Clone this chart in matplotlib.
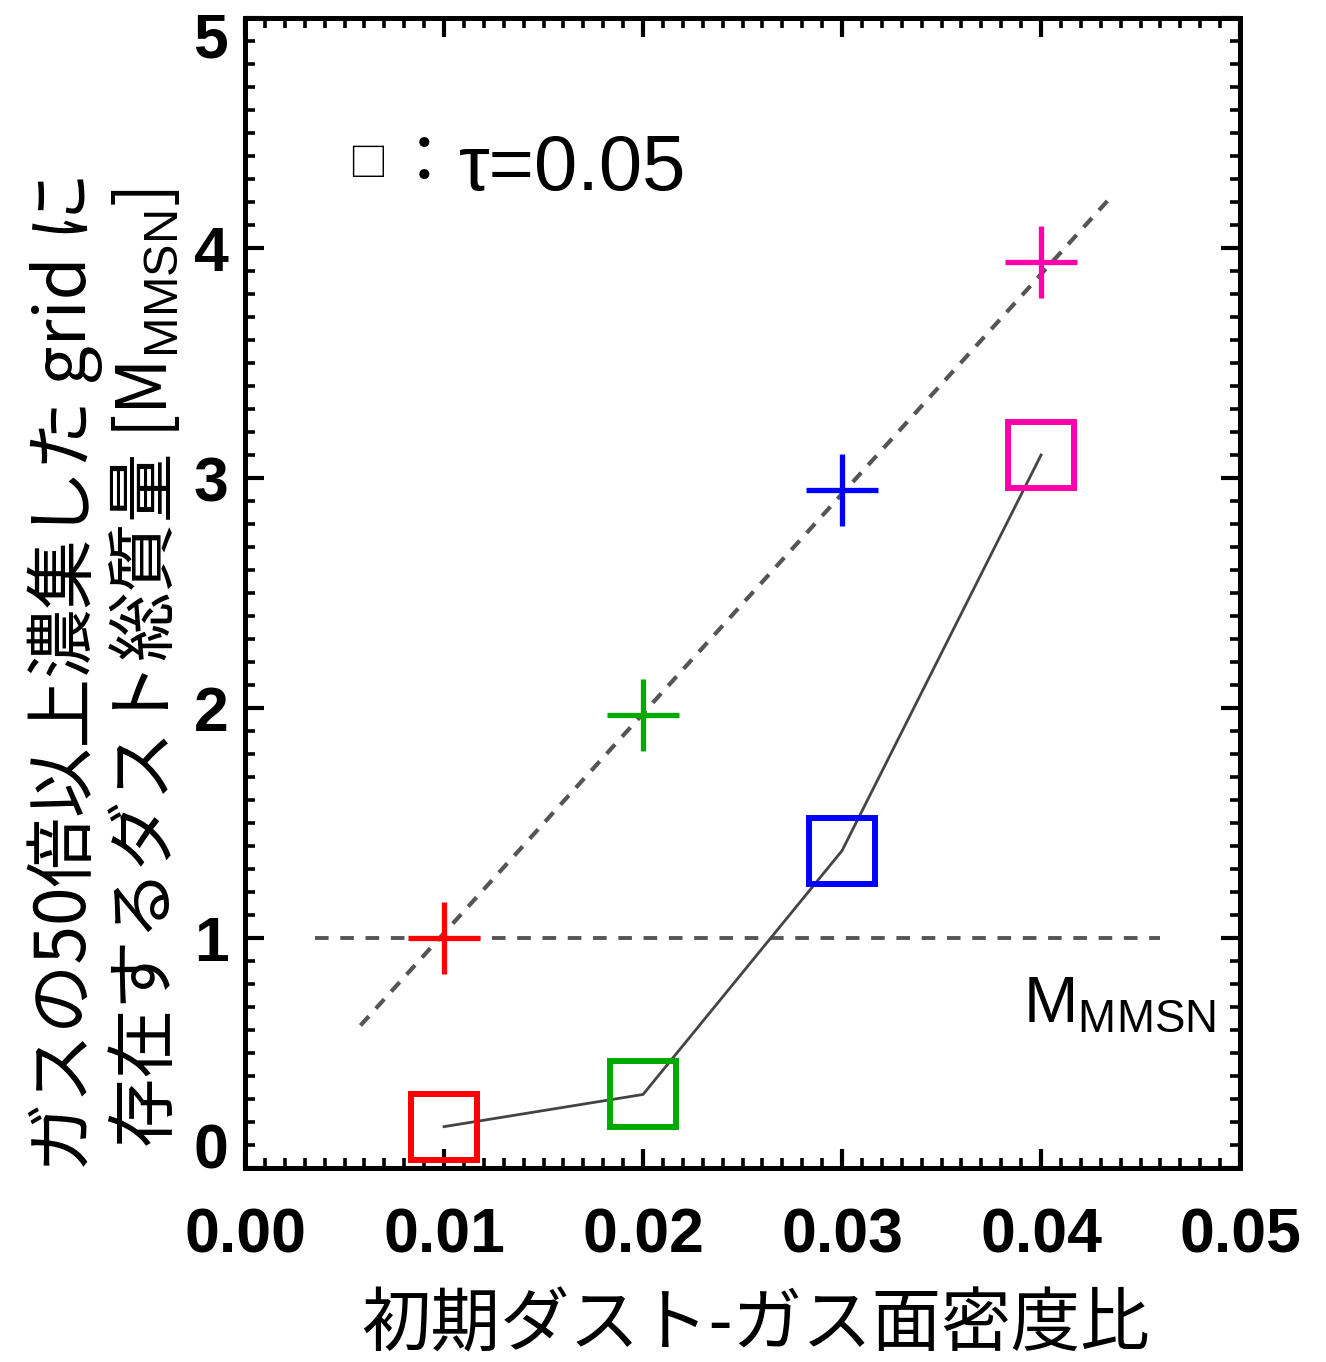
import numpy as np
import matplotlib.pyplot as plt
from matplotlib.ticker import MultipleLocator, FuncFormatter
from matplotlib.transforms import ScaledTranslation

plt.rcParams['mathtext.fontset'] = 'custom'
plt.rcParams['mathtext.rm'] = 'Liberation Sans'

# 初期ダスト-ガス面密度比
ratio = [0.01, 0.02, 0.03, 0.04]
colors = ['#ff0000', '#00aa00', '#0000ff', '#ff00aa']

# +印 : ガスの50倍以上濃集した grid に存在するダスト総質量
mass_plus = [1.00, 1.97, 2.95, 3.94]
# □印 : τ=0.05
mass_tau = [0.18, 0.32, 1.38, 3.10]

# +印に合わせた直線 (破線)
fit_x = [0.0058, 0.0436]
fit_y = [0.62, 4.23]

# M_MMSN の基準線
mmsn_x = [0.0035, 0.046]
mmsn_y = [1.0, 1.0]

ymin, ymax = 0, 5

fig = plt.figure(figsize=(13.26, 13.62), dpi=100)
ax = fig.add_axes([0.1848, 0.1424, 0.7504, 0.8444])

ax.plot(mmsn_x, mmsn_y, color='#555555', lw=2.8, dashes=(3.5, 3.0))
ax.plot(fit_x, fit_y, color='#555555', lw=3.0, dashes=(3.0, 2.5))
ax.plot(ratio, mass_tau, color='#444444', lw=2.0)

for x, yp, yt, c in zip(ratio, mass_plus, mass_tau, colors):
    ax.plot(x, yp, marker='+', ms=52, mew=3.8, color=c, ls='none')
    ax.plot(x, yt, marker='s', ms=47, mew=4.3, mec=c, mfc='none', ls='none')

ax.set_xlim(0, 0.05)
ax.set_ylim(ymin, ymax)
ax.xaxis.set_major_locator(MultipleLocator(0.01))
ax.xaxis.set_minor_locator(MultipleLocator(0.001))
ax.yaxis.set_major_locator(MultipleLocator(1))
ax.yaxis.set_minor_locator(MultipleLocator(0.1))
ax.xaxis.set_major_formatter(plt.FormatStrFormatter('%.2f'))
# 両端 (0 と 5) は枠の内側に寄せて別に描く
ax.yaxis.set_major_formatter(FuncFormatter(
    lambda v, p: '' if v in (ymin, ymax) else '%d' % v))

ax.tick_params(which='both', direction='in', top=True, right=True, color='black')
ax.tick_params(which='major', length=14, width=3.0)
ax.tick_params(which='minor', length=7, width=2.6)
ax.tick_params(axis='x', which='major', pad=28)
ax.tick_params(axis='y', which='major', pad=12)
ax.tick_params(labelsize=45)
for sp in ax.spines.values():
    sp.set_linewidth(3.6)

tick_font = dict(family='Liberation Sans', weight='bold', size=45)
for lab in ax.get_xticklabels() + ax.get_yticklabels():
    lab.set_fontfamily('Liberation Sans')
    lab.set_fontweight('bold')

ytrans = ax.get_yaxis_transform()
ax.text(0, ymin, '%d' % ymin, ha='right', va='baseline', **tick_font,
        transform=ytrans + ScaledTranslation(-0.17, 0.0, fig.dpi_scale_trans))
ax.text(0, ymax, '%d' % ymax, ha='right', va='baseline', **tick_font,
        transform=ytrans + ScaledTranslation(-0.17, -0.40, fig.dpi_scale_trans))

# 凡例代わりの注記
ax.text(0.123, 0.872, '□', transform=ax.transAxes, fontsize=28,
        family='Noto Sans CJK JP', ha='center', va='center')
ax.text(0.180, 0.873, '：', transform=ax.transAxes, fontsize=48,
        family='Noto Sans CJK JP', ha='center', va='center')
ax.text(0.215, 0.850, 'τ=0.05', transform=ax.transAxes, fontsize=56,
        family='Liberation Sans', ha='left', va='baseline')

ax.text(0.976, 0.127, r'M$_{\mathrm{MMSN}}$', transform=ax.transAxes,
        fontsize=47, family='Liberation Sans', ha='right', va='baseline')

fig.text(0.5694, 0.027, '初期ダスト-ガス面密度比', fontsize=50,
         family='Noto Sans CJK JP', ha='center', va='center')
fig.text(0.049, 0.5066, 'ガスの50倍以上濃集した grid に', fontsize=50,
         family='Noto Sans CJK JP', rotation=90, ha='center', va='center')
fig.text(0.1094, 0.5095, r'存在するダスト総質量 [M$_{\mathrm{MMSN}}$]', fontsize=50,
         family='Noto Sans CJK JP', rotation=90, ha='center', va='center')

fig.savefig('out.png', dpi=100)
